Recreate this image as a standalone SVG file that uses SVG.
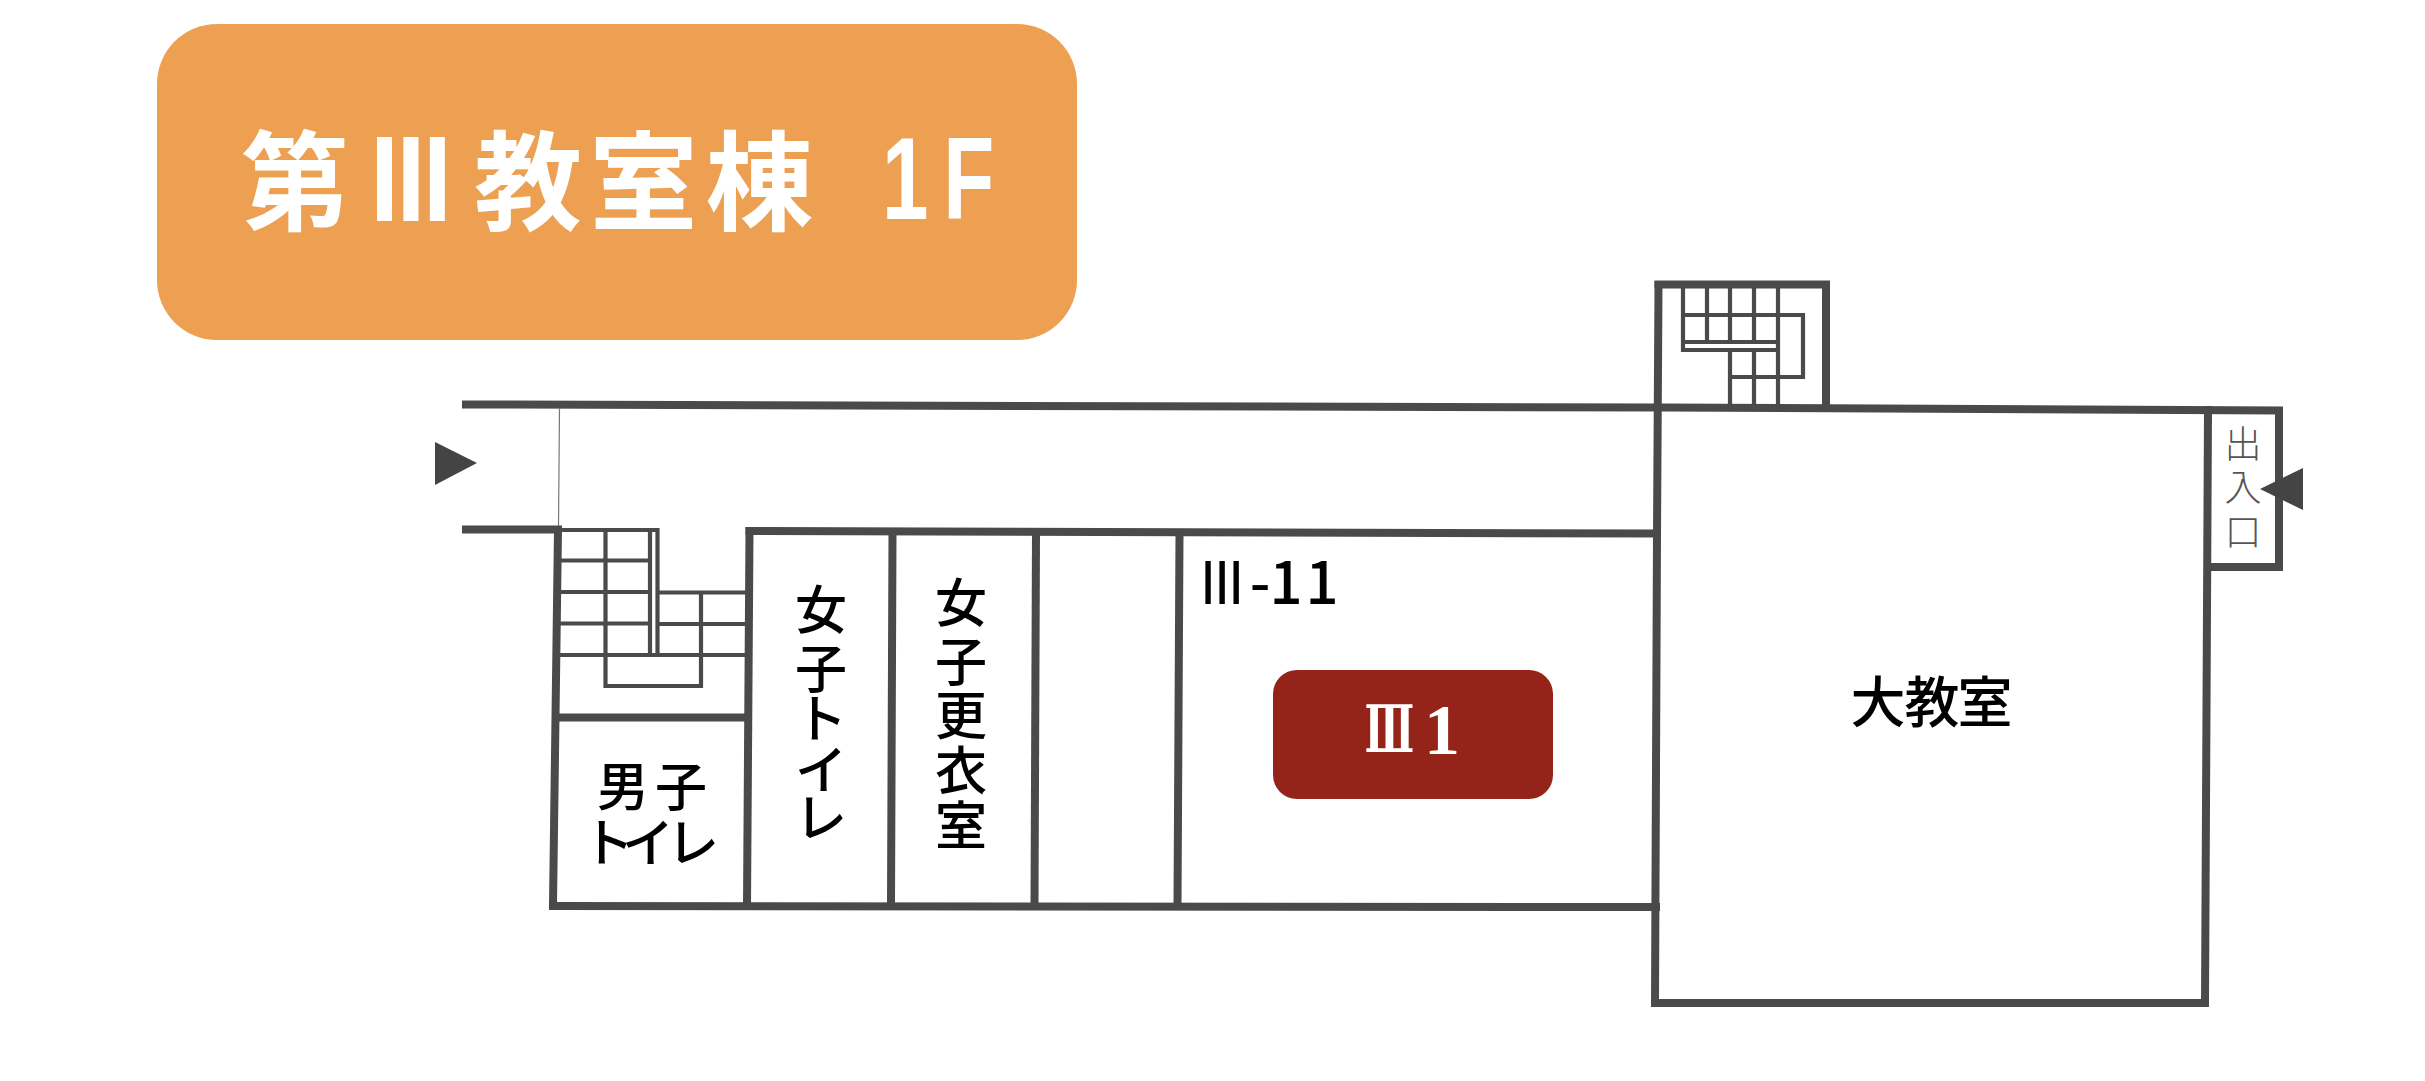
<svg xmlns="http://www.w3.org/2000/svg" width="2425" height="1081" viewBox="0 0 2425 1081">
<style>
.bg{fill:#fff}
.w{stroke:#4a4a4a;stroke-width:8;fill:none;stroke-linecap:square}
.s{stroke:#4a4a4a;stroke-width:4.2;fill:none}
.t{font-family:"Noto Sans CJK JP","Noto Sans",sans-serif;fill:#000;text-anchor:middle;font-size:52px;font-weight:500}
.tw{fill:#fff;font-size:108px;font-weight:700}
.tri{fill:#444}
</style>
<rect class="bg" width="2425" height="1081"/>
<g id="title">
<rect x="157" y="24" width="920" height="316" rx="60" ry="60" fill="#eda052"/>
<text class="t tw" x="295" y="222">第</text>
<text class="t tw" transform="translate(411,219) scale(.74,1)" x="0" y="0" stroke="#fff" stroke-width="4">Ⅲ</text>
<text class="t tw" x="528 643.5 759.5" y="222 222 222">教室棟</text>
<text transform="translate(882,219) scale(.72,1)" style="font-family:'Liberation Sans',sans-serif;font-size:116px;font-weight:700;fill:#fff" x="0 85" y="0">1F</text>
</g>
<g id="walls">
<path class="w" d="M466 404.5 L1665 407.5 L2279 410.5 L2279 567 L2208 567"/>
<path class="w" d="M466 529.5 L558 529.5 L553 905"/>
<path class="w" d="M749.5 531 L1657 533.5"/>
<path class="w" d="M553 906 L1656 907"/>
<path class="w" d="M556 717.5 L747 717.5"/>
<path class="w" d="M749.5 531 L747 905"/>
<path class="w" d="M892.5 534 L891 905"/>
<path class="w" d="M1036 534 L1034.5 905"/>
<path class="w" d="M1179.5 534 L1177.5 905"/>
<path class="w" d="M1658.5 285 L1657 535 L1655 1003 L2205 1003 L2208 410"/>
<path class="w" d="M1658.5 284.5 L1826 284.5 L1826 407"/>
<path d="M559.5 408 L558.5 526" stroke="#777" stroke-width="1.2" fill="none"/>
</g>
<g id="stairs-west">
<path class="s" d="M562 530 L657.5 530 L657.5 655 M650 530 L650 655"/>
<path class="s" d="M560 560.5 H650 M560 592 H650 M560 623.5 H650 M558 655 H747 M658 592.5 H747 M658 624 H747"/>
<path class="s" d="M605.5 530 V686 H701 V592"/>
</g>
<g id="stairs-north">
<path class="s" d="M1683 288 V350 H1778 M1683 342 H1778"/>
<path class="s" d="M1707 288 V342 M1730 288 V342 M1754 288 V342 M1730 350 V407 M1754 350 V407 M1778 288 V407"/>
<path class="s" d="M1683 315 H1803 V377 H1730"/>
</g>
<g id="arrows">
<polygon class="tri" points="435,442 477,463 435,485"/>
<polygon class="tri" points="2260,489 2303,468 2303,510"/>
</g>
<g id="entrance">
<text class="t" style="font-size:37px;font-weight:300;fill:#555" x="2243 2243 2243" y="458 501 546">出入口</text>
</g>
<g id="mens-toilet">
<text class="t" x="623 681 608 648 693" y="806 806 862 862 862">男子トイレ</text>
</g>
<g id="womens-toilet">
<text class="t" x="821 821 821 821 821" y="629 688 738 789 837">女子トイレ</text>
</g>
<g id="womens-changing">
<text class="t" x="961 961 961 961 961" y="622 681 735 790 845">女子更衣室</text>
</g>
<g id="room-3-11">
<text class="t" style="font-size:58px" transform="translate(1222,604) scale(.78,1)" x="0" y="0">Ⅲ</text>
<text class="t" style="font-size:58px" x="1260 1286 1322" y="604 604 604">-11</text>
<rect x="1273" y="670" width="280" height="129" rx="24" ry="24" fill="#94231a"/>
<text transform="translate(1389.5,752) scale(.62,1)" style="font-family:'DejaVu Serif','Liberation Serif',serif;font-size:66px;font-weight:700;fill:#fff;text-anchor:middle" x="0" y="0">Ⅲ</text>
<text style="font-family:'Liberation Serif',serif;font-size:72px;fill:#fff;font-weight:700" x="1424" y="754">1</text>
</g>
<g id="large-classroom">
<text class="t" style="font-size:55px" x="1878 1932 1985" y="722 722 722">大教室</text>
</g>
</svg>
